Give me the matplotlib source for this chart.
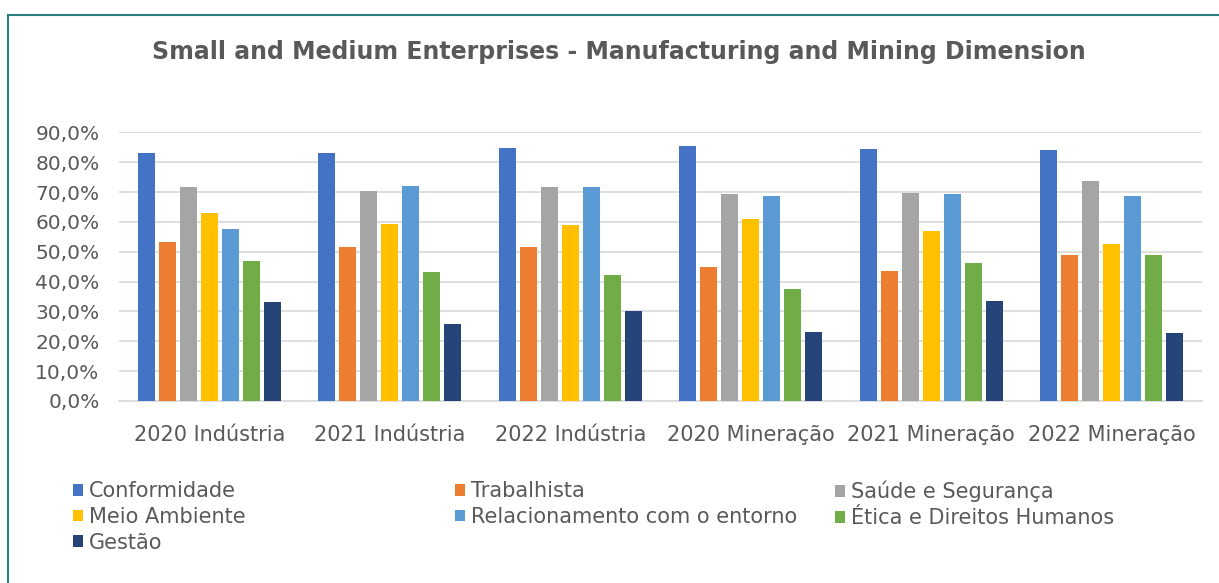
import numpy as np
import matplotlib
matplotlib.use("Agg")
import matplotlib.pyplot as plt
from matplotlib.ticker import FuncFormatter
from matplotlib.lines import Line2D

# categories and series (percent)
groups = ["2020 Indústria", "2021 Indústria", "2022 Indústria",
          "2020 Mineração", "2021 Mineração", "2022 Mineração"]
series = ["Conformidade", "Trabalhista", "Saúde e Segurança", "Meio Ambiente",
          "Relacionamento com o entorno", "Ética e Direitos Humanos", "Gestão"]

conformidade = [83.1, 82.9, 84.9, 85.3, 84.5, 84.0]
trabalhista = [53.3, 51.5, 51.5, 44.9, 43.5, 48.8]
saude = [71.8, 70.4, 71.8, 69.4, 69.8, 73.8]
meio_ambiente = [63.1, 59.2, 58.9, 61.0, 57.1, 52.7]
relacionamento = [57.6, 72.1, 71.7, 68.6, 69.4, 68.6]
etica = [46.9, 43.1, 42.1, 37.5, 46.1, 48.9]
gestao = [33.3, 25.8, 30.2, 23.0, 33.6, 22.8]

values = [conformidade, trabalhista, saude, meio_ambiente, relacionamento, etica, gestao]
colors = ["#4472C4", "#ED7D31", "#A5A5A5", "#FFC000", "#5B9BD5", "#70AD47", "#264478"]

txt = "#595959"
plt.rcParams['font.family'] = 'DejaVu Sans'

fig = plt.figure(figsize=(12.19, 5.83), dpi=100)
ax = fig.add_axes([119/1219, 1 - 401/583, (1202 - 119)/1219, (401 - 132.3)/583])

x = np.arange(len(groups))
slot = 0.1165
bars = []
for i, (name, vals, col) in enumerate(zip(series, values, colors)):
    b = ax.bar(x + (i - 3) * slot, np.array(vals) / 100, width=0.094, color=col,
               label=name, zorder=3)
    bars.append(b)

ax.set_xlim(-0.5, len(groups) - 0.5)
ax.set_ylim(0, 0.9)
ax.set_yticks(np.arange(0, 0.91, 0.1))
ax.yaxis.set_major_formatter(FuncFormatter(lambda v, p: f"{v*100:.1f}%".replace('.', ',')))
ax.set_xticks(x)
ax.set_xticklabels(groups)
ax.tick_params(axis='y', length=0, pad=14, labelsize=14.5, labelcolor=txt)
ax.tick_params(axis='x', length=0, pad=17, labelsize=15, labelcolor=txt)
ax.grid(axis='y', color="#d9d9d9", linewidth=1.2, zorder=0)
for s in ['top', 'right', 'left']:
    ax.spines[s].set_visible(False)
ax.spines['bottom'].set_color("#d9d9d9")
ax.spines['bottom'].set_linewidth(1.2)

fig.text(619/1219, 1 - 52/583, "Small and Medium Enterprises - Manufacturing and Mining Dimension",
         ha='center', va='center', fontsize=17, fontweight='bold', color=txt)

# legend laid out in 3 equal columns like the original
col_x = [73, 455, 835]
for c in range(3):
    idx = list(range(c, len(series), 3))
    leg = fig.legend([bars[i] for i in idx], [series[i] for i in idx],
                     loc='upper left', bbox_to_anchor=(col_x[c]/1219, 1 - 481/583),
                     frameon=False, fontsize=15, handlelength=0.5, handleheight=0.5,
                     handletextpad=0.25, labelspacing=0.28, borderpad=0, borderaxespad=0)
    for t in leg.get_texts():
        t.set_color(txt)

# chart frame (teal)
fig.add_artist(Line2D([8/1219, 8/1219], [0, 1 - 15/583], color="#2E7F7F", linewidth=1.5))
fig.add_artist(Line2D([8/1219, 1], [1 - 15/583, 1 - 15/583], color="#2E7F7F", linewidth=1.5))

fig.savefig("out.png", dpi=100)
